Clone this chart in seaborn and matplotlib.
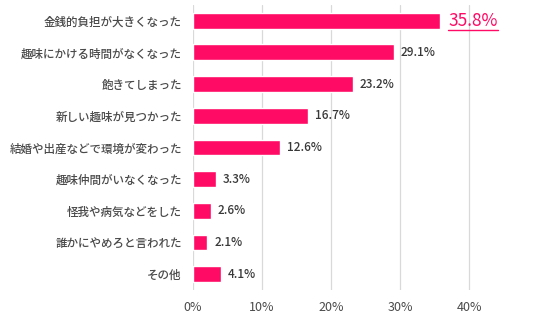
import matplotlib
matplotlib.use("Agg")
import matplotlib.pyplot as plt
import seaborn as sns
import pandas as pd
from matplotlib.lines import Line2D

reasons = [
    "金銭的負担が大きくなった",
    "趣味にかける時間がなくなった",
    "飽きてしまった",
    "新しい趣味が見つかった",
    "結婚や出産などで環境が変わった",
    "趣味仲間がいなくなった",
    "怪我や病気などをした",
    "誰かにやめろと言われた",
    "その他",
]
shares = [35.8, 29.1, 23.2, 16.7, 12.6, 3.3, 2.6, 2.1, 4.1]
x_ticks = [0, 10, 20, 30, 40]
x_tick_labels = ["0%", "10%", "20%", "30%", "40%"]

bar_color = "#FF0A64"
text_color = "#4a4a4a"

sns.set_theme(style="white")
plt.rcParams["font.family"] = ["Noto Sans CJK JP", "DejaVu Sans"]

df = pd.DataFrame({"reason": reasons, "share": shares})

fig = plt.figure(figsize=(5.36, 3.24), dpi=100)
ax = fig.add_axes([0.36, 0.105, 0.64, 0.88])

sns.barplot(data=df, x="share", y="reason", color=bar_color, width=0.5,
            saturation=1, ax=ax, zorder=3)

ax.set_xlim(0, 49.7)
ax.set_ylim(len(reasons) - 0.5, -0.5)
ax.set_xticks(x_ticks)
ax.set_xticklabels(x_tick_labels, fontsize=9, color=text_color)
ax.set_xlabel("")
ax.set_ylabel("")
ax.tick_params(axis="y", labelsize=8.3, labelcolor=text_color, length=0, pad=8)
ax.tick_params(axis="x", length=0, pad=8)
for lbl in ax.get_yticklabels():
    lbl.set_fontweight("medium")

for xv in x_ticks:
    ax.axvline(xv, color="#d9d9d9", lw=0.9, zorder=1)
for s in ax.spines.values():
    s.set_visible(False)

# value labels; the top item is emphasised and underlined
fig.canvas.draw()
renderer = fig.canvas.get_renderer()
for i, v in enumerate(shares):
    if i == 0:
        t = ax.annotate(f"{v:.1f}%", (v, i), xytext=(6, 0), textcoords="offset points",
                        va="center", ha="left", fontsize=12.5, color=bar_color)
        fig.canvas.draw()
        bb = t.get_window_extent(renderer)
        y0 = bb.y0 + 0
        line = Line2D([bb.x0, bb.x1], [y0, y0], transform=None,
                      color=bar_color, lw=1.0)
        fig.add_artist(line)
    else:
        ax.annotate(f"{v:.1f}%", (v, i), xytext=(5, 0), textcoords="offset points",
                    va="center", ha="left", fontsize=8.5, color="#383838",
                    fontweight="medium")

fig.savefig("out.png", dpi=100)
